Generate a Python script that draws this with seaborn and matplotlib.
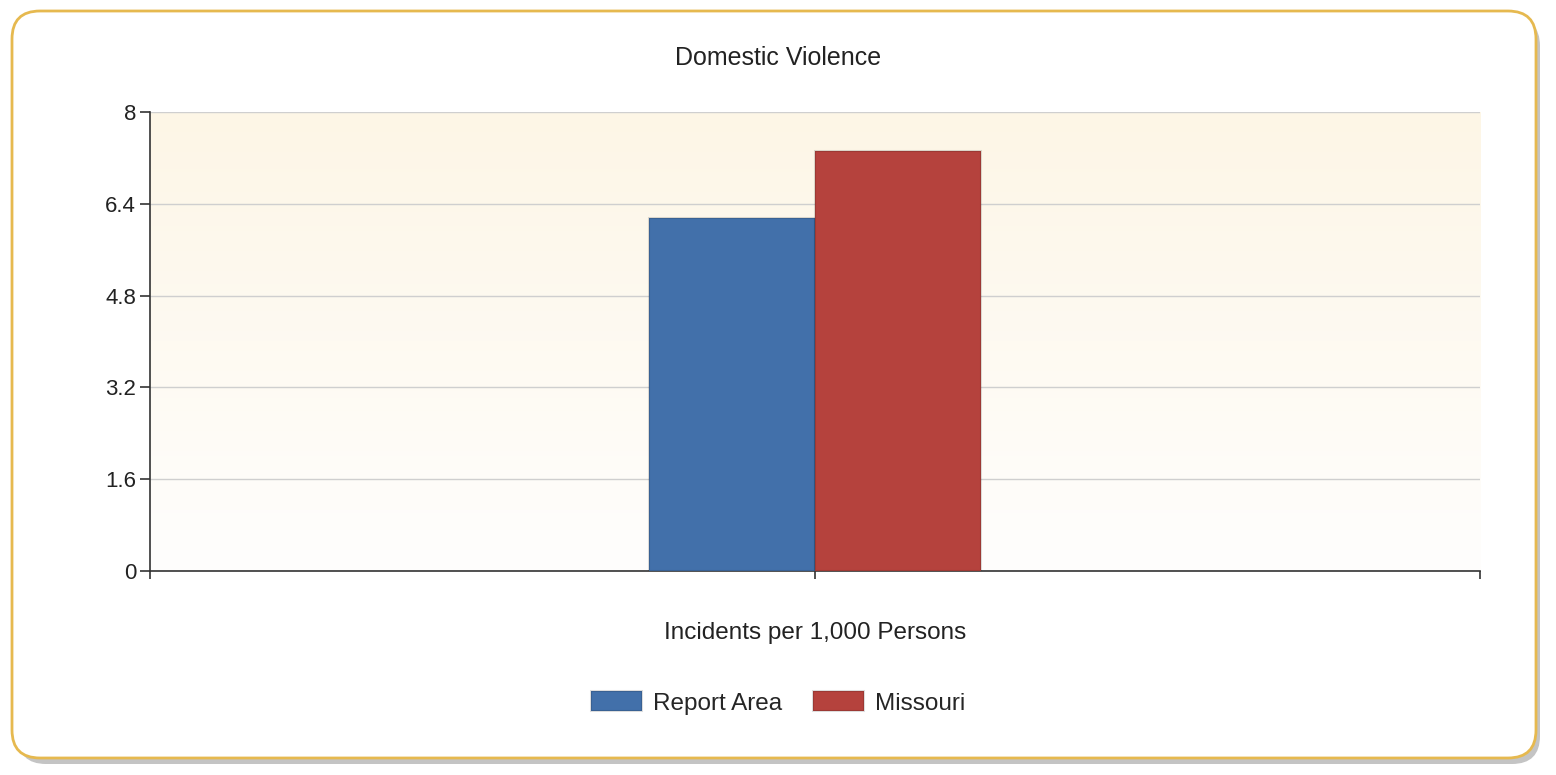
import numpy as np
import pandas as pd
import seaborn as sns
import matplotlib.pyplot as plt
from matplotlib.patches import FancyBboxPatch
from matplotlib.colors import LinearSegmentedColormap

category = ["Incidents per 1,000 Persons"]
regions = ["Report Area", "Missouri"]
values = [6.15, 7.32]
colors = ["#4270aa", "#b5423d"]
yticks = [0, 1.6, 3.2, 4.8, 6.4, 8]

df = pd.DataFrame({"measure": category * len(regions), "region": regions, "value": values})

sns.set_style("white")
plt.rcParams["font.family"] = ["Liberation Sans", "DejaVu Sans"]

fig = plt.figure(figsize=(15.56, 7.75), dpi=100)

# background card, drawn in pixel units so the corners stay round
bg = fig.add_axes([0, 0, 1, 1], zorder=-1)
bg.set_xlim(0, 1556)
bg.set_ylim(775, 0)
bg.axis("off")
bg.add_patch(FancyBboxPatch((18, 18), 1522, 746, boxstyle="round,pad=0,rounding_size=28",
                            facecolor="#c4c4c4", edgecolor="none"))
bg.add_patch(FancyBboxPatch((12, 11), 1524, 747, boxstyle="round,pad=0,rounding_size=28",
                            facecolor="white", edgecolor="#e6b94f", linewidth=2))

ax = fig.add_axes([0.0964, 0.2632, 0.8548, 0.5923])
ax.set_facecolor("none")

# faint cream gradient in the plot area
cmap = LinearSegmentedColormap.from_list("cream", ["#fffefd", "#fdf6e6"])
grad = np.linspace(0, 1, 256).reshape(-1, 1)
ax.imshow(grad, extent=(-0.5, 0.5, 0, 8), origin="lower", aspect="auto", cmap=cmap, zorder=0)

sns.barplot(data=df, x="measure", y="value", hue="region", palette=colors,
            width=0.25, gap=0, saturation=1, ax=ax, zorder=3, legend=True)
for p in ax.patches:
    p.set_edgecolor("#00000022")
    p.set_linewidth(1.5)

ax.set_xlim(-0.5, 0.5)
ax.set_ylim(0, 8)
ax.set_yticks(yticks)
ax.set_yticklabels(["0", "1.6", "3.2", "4.8", "6.4", "8"], fontsize=16, color="#222222")
ax.set_xticks([-0.5, 0, 0.5])
ax.set_xticklabels(["", "", ""])
ax.tick_params(axis="both", left=True, bottom=True, length=7, width=1.2,
               color="#333333", direction="out", pad=3)
ax.tick_params(axis="x", length=6)
ax.grid(axis="y", color="#cfcfcf", linewidth=1, zorder=1)
ax.set_axisbelow(True)
for s in ["top", "right"]:
    ax.spines[s].set_visible(False)
for s in ["left", "bottom"]:
    ax.spines[s].set_color("#333333")
    ax.spines[s].set_linewidth(1.2)

ax.set_ylabel("")
ax.set_xlabel(category[0], fontsize=17.5, color="#222222", labelpad=28)
fig.text(0.5, 1 - 58 / 775, "Domestic Violence", ha="center", va="center", fontsize=18, color="#222222")

handles, labels = ax.get_legend_handles_labels()
ax.legend().remove()
fig.legend(handles, labels, loc="center", bbox_to_anchor=(0.5, 1 - 703 / 775), ncol=2, frameon=False,
           fontsize=17.5, handlelength=2.1, handleheight=0.9, columnspacing=1.3, handletextpad=0.45)

fig.savefig("out.png", dpi=100)
